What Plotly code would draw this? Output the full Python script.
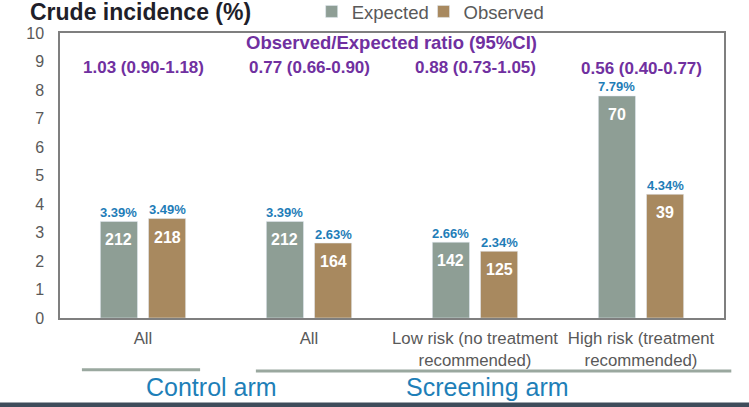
import plotly.graph_objects as go

categories = ["All", "All", "Low risk (no treatment<br>recommended)", "High risk (treatment<br>recommended)"]
expected_pct = [3.39, 3.39, 2.66, 7.79]
observed_pct = [3.49, 2.63, 2.34, 4.34]
expected_n = [212, 212, 142, 70]
observed_n = [218, 164, 125, 39]
ratios = ["1.03 (0.90-1.18)", "0.77 (0.66-0.90)", "0.88 (0.73-1.05)", "0.56 (0.40-0.77)"]
ratio_y = [8.8, 8.8, 8.8, 8.77]
arms = ["Control arm", "Screening arm"]

FONT = "Liberation Sans, Arial, sans-serif"
C_EXP = "#8E9E95"
C_OBS = "#A8895F"
C_PCT = "#1F7DB8"
C_PUR = "#7030A0"
C_GRAY = "#595959"
C_ARM = "#1E7FB8"

xpos = list(range(len(categories)))
half = 0.145

fig = go.Figure()
fig.add_trace(go.Bar(name="Expected", x=xpos, y=expected_pct, marker_color=C_EXP, legend="legend",
                     hoverinfo="skip"))
fig.add_trace(go.Bar(name="Observed", x=xpos, y=observed_pct, marker_color=C_OBS, legend="legend2",
                     hoverinfo="skip"))

anns = []
for i in xpos:
    for dx, pct, n in ((-half, expected_pct[i], expected_n[i]), (half, observed_pct[i], observed_n[i])):
        anns.append(dict(x=i + dx, y=pct, xref="x", yref="y", text=str(n),
                         showarrow=False, yanchor="top", yshift=-8,
                         font=dict(family=FONT, size=16, color="white", weight="bold")))
        anns.append(dict(x=i + dx, y=pct, xref="x", yref="y", text=f"{pct:.2f}%",
                         showarrow=False, yanchor="middle", yshift=9,
                         font=dict(family=FONT, size=13, color=C_PCT, weight="bold")))
    anns.append(dict(x=i, y=ratio_y[i], xref="x", yref="y", text=ratios[i], showarrow=False,
                     font=dict(family=FONT, size=17, color=C_PUR, weight="bold")))

anns.append(dict(x=0.499, y=9.65, xref="paper", yref="y", text="Observed/Expected ratio (95%CI)",
                 showarrow=False, font=dict(family=FONT, size=18.5, color=C_PUR, weight="bold")))
anns.append(dict(x=-0.048, y=1.074, xref="paper", yref="paper", xanchor="left", yanchor="middle",
                 text="Crude incidence (%)", showarrow=False,
                 font=dict(family=FONT, size=23, color="#1F1F2A", weight="bold")))
anns.append(dict(x=0.126, y=-0.242, xref="paper", yref="paper", text=arms[0], showarrow=False,
                 yanchor="middle", font=dict(family=FONT, size=25, color=C_ARM)))
anns.append(dict(x=0.644, y=-0.242, xref="paper", yref="paper", text=arms[1], showarrow=False,
                 yanchor="middle", font=dict(family=FONT, size=25, color=C_ARM)))

shapes = [
    dict(type="line", xref="paper", yref="paper", x0=0.033, x1=0.211, y0=-0.182, y1=-0.182,
         line=dict(color="#9AA89F", width=3)),
    dict(type="line", xref="paper", yref="paper", x0=0.295, x1=1.011, y0=-0.186, y1=-0.186,
         line=dict(color="#9AA89F", width=3)),
    dict(type="line", xref="paper", yref="paper", x0=-0.1, x1=1.05, y0=-0.305, y1=-0.305,
         line=dict(color="#3E4C5A", width=5)),
]

legend_common = dict(orientation="h", y=1.074, xanchor="left", yanchor="middle",
                     font=dict(family=FONT, size=18.5, color=C_GRAY), bgcolor="rgba(0,0,0,0)",
                     itemclick=False)

fig.update_layout(
    width=749, height=407,
    margin=dict(l=60, r=25, t=33, b=89, autoexpand=False),
    paper_bgcolor="white", plot_bgcolor="white",
    barmode="group", bargap=0.42, bargroupgap=0.229,
    font=dict(family=FONT, color=C_GRAY),
    showlegend=True, hovermode=False,
    legend=dict(x=0.379, **legend_common),
    legend2=dict(x=0.5475, **legend_common),
    annotations=anns, shapes=shapes,
    xaxis=dict(tickmode="array", tickvals=xpos, ticktext=categories, range=[-0.5, 3.5],
               automargin=False,
               showline=True, linecolor="#7F7F7F", linewidth=1.5, mirror=True,
               ticks="", ticklabelstandoff=4, tickfont=dict(family=FONT, size=16.8, color=C_GRAY),
               showgrid=False, zeroline=False),
    yaxis=dict(range=[0, 10], dtick=1, showline=True, linecolor="#7F7F7F", linewidth=1.5,
               automargin=False,
               mirror=True, ticks="", ticklabelstandoff=11,
               tickfont=dict(family=FONT, size=16, color=C_GRAY), showgrid=False, zeroline=False),
)

fig.write_html("out.html", config={"displayModeBar": False},
               post_script="document.body.style.margin='0';")
